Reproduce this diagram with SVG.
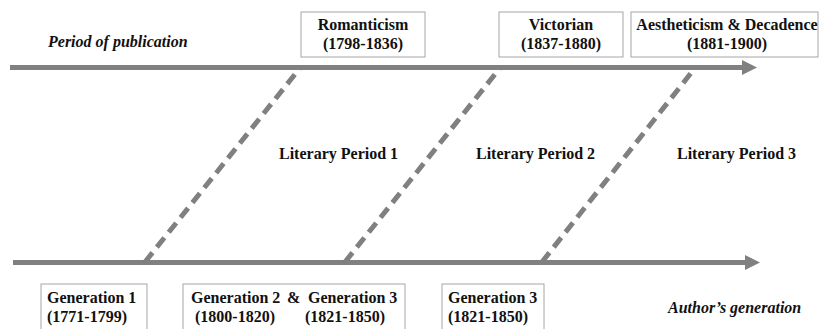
<svg xmlns="http://www.w3.org/2000/svg" width="822" height="329" viewBox="0 0 822 329">
<style>
.box{fill:#fff;stroke:#a6a6a6;stroke-width:1}
.axis{stroke:#808080;stroke-width:5;fill:none}
.dash{stroke:#808080;stroke-width:5;fill:none;stroke-dasharray:12 7}
</style>
<defs>
<marker id="ah" markerUnits="userSpaceOnUse" markerWidth="16" markerHeight="16" refX="0" refY="8" orient="auto" viewBox="0 0 16 16">
<path d="M0,0.5 L15,8 L0,15.5 Z" fill="#808080"/>
</marker>
</defs>
<rect width="822" height="329" fill="#fff"/>
<g id="connectors">
<line class="axis" x1="10" y1="67.5" x2="742" y2="67.5" marker-end="url(#ah)"/>
<line class="axis" x1="13" y1="262.5" x2="745" y2="262.5" marker-end="url(#ah)"/>
<line class="dash" x1="145" y1="262" x2="300" y2="68"/>
<line class="dash" x1="345" y1="262" x2="500" y2="68"/>
<line class="dash" x1="542" y1="262" x2="695" y2="68"/>
</g>
<g font-family="Liberation Serif" font-weight="bold" font-size="16" fill="#111">
<g id="period-label"><text x="48" y="47" font-family="Liberation Serif" font-style="italic">Period of publication</text></g>
<g id="romanticism">
<rect class="box" x="301" y="12" width="124" height="45"/>
<text x="363" y="30" text-anchor="middle" font-family="Liberation Serif">Romanticism</text>
<text x="363" y="49" text-anchor="middle" font-family="Liberation Serif">(1798-1836)</text>
</g>
<g id="victorian">
<rect class="box" x="499" y="12" width="124" height="45"/>
<text x="561" y="30" text-anchor="middle" font-family="Liberation Serif">Victorian</text>
<text x="561" y="49" text-anchor="middle" font-family="Liberation Serif">(1837-1880)</text>
</g>
<g id="aestheticism">
<rect class="box" x="631" y="12" width="187" height="45"/>
<text x="727" y="30" text-anchor="middle" font-family="Liberation Serif">Aestheticism &amp; Decadence</text>
<text x="727" y="49" text-anchor="middle" font-family="Liberation Serif">(1881-1900)</text>
</g>
<g id="lp1"><text x="279" y="159" font-family="Liberation Serif">Literary Period 1</text></g>
<g id="lp2"><text x="476" y="159" font-family="Liberation Serif">Literary Period 2</text></g>
<g id="lp3"><text x="677" y="159" font-family="Liberation Serif">Literary Period 3</text></g>
<g id="gen1">
<rect class="box" x="41" y="284" width="106" height="50"/>
<text x="47" y="303" font-family="Liberation Serif">Generation 1</text>
<text x="47" y="322" font-family="Liberation Serif">(1771-1799)</text>
</g>
<g id="gen23">
<rect class="box" x="183" y="284" width="222" height="50"/>
<text x="191" y="303" font-family="Liberation Serif">Generation 2</text>
<text x="287" y="303" font-family="Liberation Serif">&amp;</text>
<text x="308" y="303" font-family="Liberation Serif">Generation 3</text>
<text x="195" y="322" font-family="Liberation Serif">(1800-1820)</text>
<text x="305" y="322" font-family="Liberation Serif">(1821-1850)</text>
</g>
<g id="gen3">
<rect class="box" x="442" y="284" width="102" height="50"/>
<text x="448" y="303" font-family="Liberation Serif">Generation 3</text>
<text x="448" y="322" font-family="Liberation Serif">(1821-1850)</text>
</g>
<g id="author-label"><text x="668" y="313" font-family="Liberation Serif" font-style="italic">Author’s generation</text></g>
</g>
</svg>
